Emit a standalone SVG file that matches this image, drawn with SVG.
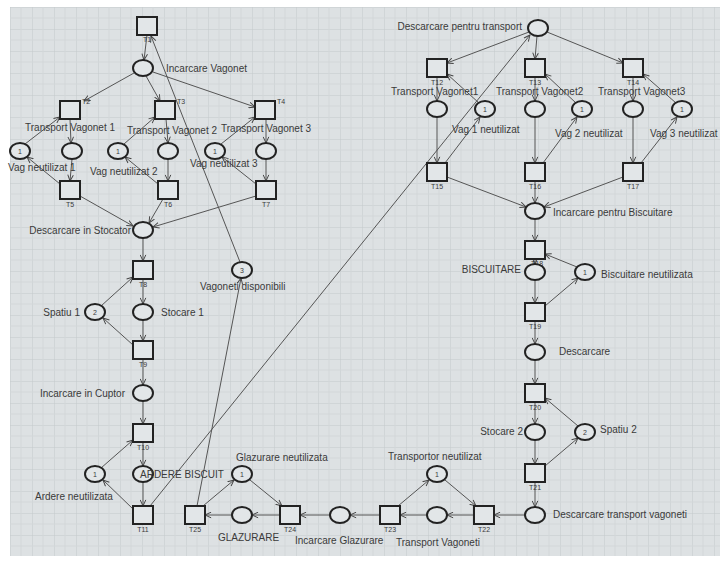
<svg xmlns="http://www.w3.org/2000/svg" width="720" height="563" viewBox="0 0 720 563">
<defs>
<pattern id="grid" x="10" y="7" width="22" height="22" patternUnits="userSpaceOnUse">
<rect width="22" height="22" fill="#dde1e3"/>
<path d="M0 0H22M0 0V22" stroke="#c4c9cc" stroke-width="1" fill="none"/>
<path d="M11 0V22M0 11H22" stroke="#d3d7d9" stroke-width="1" fill="none"/>
</pattern>
<marker id="ah" viewBox="0 0 8 8" refX="7.5" refY="4" markerWidth="7" markerHeight="7" orient="auto" markerUnits="userSpaceOnUse">
<path d="M0.5 0.8L7.5 4L0.5 7.2" fill="none" stroke="#444" stroke-width="1.1"/>
</marker>
<style>
.t rect{fill:#e2e6e8;stroke:#222;stroke-width:2}
.p ellipse{fill:#e2e6e8;stroke:#222;stroke-width:2}
text{font-family:"Liberation Sans",Arial,sans-serif;fill:#3a3a3a}
.lb{font-size:10px}
.tl{font-size:7px;text-anchor:middle}
.tk{font-size:7px;text-anchor:middle}
#edges line{stroke:#555;stroke-width:1;marker-end:url(#ah)}
</style>
</defs>
<rect width="720" height="563" fill="#ffffff"/>
<rect x="10" y="7" width="710" height="549" fill="url(#grid)"/>

<g id="edges">
<line x1="147" y1="35" x2="144" y2="60"/>
<line x1="134" y1="73" x2="84" y2="101"/>
<line x1="146" y1="76" x2="160" y2="101"/>
<line x1="153" y1="72" x2="255" y2="107"/>
<line x1="240" y1="262" x2="151" y2="36"/>
<line x1="70" y1="119" x2="71" y2="143"/>
<line x1="25" y1="144" x2="60" y2="117"/>
<line x1="72" y1="159" x2="70" y2="181"/>
<line x1="60" y1="184" x2="27" y2="157"/>
<line x1="166" y1="119" x2="168" y2="143"/>
<line x1="124" y1="144" x2="155" y2="117"/>
<line x1="168" y1="159" x2="168" y2="181"/>
<line x1="158" y1="184" x2="125" y2="157"/>
<line x1="266" y1="119" x2="266" y2="143"/>
<line x1="221" y1="144" x2="255" y2="117"/>
<line x1="266" y1="159" x2="266" y2="181"/>
<line x1="256" y1="184" x2="222" y2="157"/>
<line x1="80" y1="196" x2="133" y2="226"/>
<line x1="163" y1="199" x2="149" y2="223"/>
<line x1="256" y1="196" x2="153" y2="227"/>
<line x1="143" y1="238" x2="143" y2="261"/>
<line x1="143" y1="279" x2="143" y2="304"/>
<line x1="101" y1="306" x2="133" y2="277"/>
<line x1="133" y1="345" x2="103" y2="318"/>
<line x1="143" y1="320" x2="143" y2="341"/>
<line x1="143" y1="359" x2="143" y2="385"/>
<line x1="143" y1="401" x2="143" y2="424"/>
<line x1="143" y1="442" x2="143" y2="466"/>
<line x1="101" y1="468" x2="133" y2="440"/>
<line x1="133" y1="509" x2="103" y2="480"/>
<line x1="143" y1="482" x2="143" y2="506"/>
<line x1="150" y1="506" x2="530" y2="35"/>
<line x1="197" y1="506" x2="241" y2="278"/>
<line x1="203" y1="506" x2="234" y2="480"/>
<line x1="250" y1="480" x2="282" y2="506"/>
<line x1="232" y1="515" x2="205" y2="515"/>
<line x1="280" y1="515" x2="252" y2="515"/>
<line x1="330" y1="515" x2="300" y2="515"/>
<line x1="380" y1="515" x2="350" y2="515"/>
<line x1="427" y1="515" x2="400" y2="515"/>
<line x1="474" y1="515" x2="447" y2="515"/>
<line x1="525" y1="515" x2="494" y2="515"/>
<line x1="398" y1="506" x2="429" y2="480"/>
<line x1="445" y1="480" x2="476" y2="506"/>
<line x1="535" y1="482" x2="535" y2="507"/>
<line x1="535" y1="440" x2="535" y2="464"/>
<line x1="535" y1="402" x2="535" y2="424"/>
<line x1="545" y1="466" x2="578" y2="438"/>
<line x1="578" y1="426" x2="545" y2="398"/>
<line x1="535" y1="360" x2="535" y2="384"/>
<line x1="535" y1="321" x2="535" y2="344"/>
<line x1="535" y1="280" x2="535" y2="303"/>
<line x1="535" y1="259" x2="535" y2="264"/>
<line x1="577" y1="267" x2="545" y2="254"/>
<line x1="545" y1="306" x2="578" y2="278"/>
<line x1="535" y1="219" x2="535" y2="241"/>
<line x1="447" y1="177" x2="526" y2="207"/>
<line x1="535" y1="181" x2="535" y2="203"/>
<line x1="623" y1="177" x2="544" y2="207"/>
<line x1="437" y1="117" x2="437" y2="163"/>
<line x1="437" y1="77" x2="437" y2="101"/>
<line x1="479" y1="103" x2="447" y2="74"/>
<line x1="445" y1="163" x2="480" y2="117"/>
<line x1="535" y1="117" x2="535" y2="163"/>
<line x1="535" y1="77" x2="535" y2="101"/>
<line x1="576" y1="103" x2="545" y2="74"/>
<line x1="543" y1="163" x2="577" y2="117"/>
<line x1="633" y1="117" x2="633" y2="163"/>
<line x1="633" y1="77" x2="633" y2="101"/>
<line x1="676" y1="103" x2="643" y2="74"/>
<line x1="641" y1="163" x2="677" y2="117"/>
<line x1="529" y1="32" x2="447" y2="63"/>
<line x1="537" y1="36" x2="535" y2="59"/>
<line x1="547" y1="32" x2="623" y2="63"/>
</g>

<!-- transitions -->
<g id="T1" class="t"><rect x="137" y="17" width="20" height="18"/><text class="tl" x="147" y="42">T1</text></g>
<g id="T2" class="t"><rect x="60" y="101" width="20" height="18"/><text class="tl" x="86" y="104">T2</text></g>
<g id="T3" class="t"><rect x="155" y="101" width="20" height="18"/><text class="tl" x="181" y="104">T3</text></g>
<g id="T4" class="t"><rect x="255" y="101" width="20" height="18"/><text class="tl" x="281" y="104">T4</text></g>
<g id="T5" class="t"><rect x="60" y="181" width="20" height="18"/><text class="tl" x="70" y="207">T5</text></g>
<g id="T6" class="t"><rect x="158" y="181" width="20" height="18"/><text class="tl" x="168" y="207">T6</text></g>
<g id="T7" class="t"><rect x="256" y="181" width="20" height="18"/><text class="tl" x="266" y="207">T7</text></g>
<g id="T8" class="t"><rect x="133" y="261" width="20" height="18"/><text class="tl" x="143" y="287">T8</text></g>
<g id="T9" class="t"><rect x="133" y="341" width="20" height="18"/><text class="tl" x="143" y="367">T9</text></g>
<g id="T10" class="t"><rect x="133" y="424" width="20" height="18"/><text class="tl" x="143" y="450">T10</text></g>
<g id="T11" class="t"><rect x="133" y="506" width="20" height="18"/><text class="tl" x="143" y="532">T11</text></g>
<g id="T25" class="t"><rect x="185" y="506" width="20" height="18"/><text class="tl" x="195" y="532">T25</text></g>
<g id="T24" class="t"><rect x="280" y="506" width="20" height="18"/><text class="tl" x="290" y="532">T24</text></g>
<g id="T23" class="t"><rect x="380" y="506" width="20" height="18"/><text class="tl" x="390" y="532">T23</text></g>
<g id="T22" class="t"><rect x="474" y="506" width="20" height="18"/><text class="tl" x="484" y="532">T22</text></g>
<g id="T21" class="t"><rect x="525" y="464" width="20" height="18"/><text class="tl" x="535" y="490">T21</text></g>
<g id="T20" class="t"><rect x="525" y="384" width="20" height="18"/><text class="tl" x="535" y="410">T20</text></g>
<g id="T19" class="t"><rect x="525" y="303" width="20" height="18"/><text class="tl" x="535" y="329">T19</text></g>
<g id="T18" class="t"><rect x="525" y="241" width="20" height="18"/><text class="tl" x="537" y="266">T18</text></g>
<g id="T15" class="t"><rect x="427" y="163" width="20" height="18"/><text class="tl" x="437" y="189">T15</text></g>
<g id="T16" class="t"><rect x="525" y="163" width="20" height="18"/><text class="tl" x="535" y="189">T16</text></g>
<g id="T17" class="t"><rect x="623" y="163" width="20" height="18"/><text class="tl" x="633" y="189">T17</text></g>
<g id="T12" class="t"><rect x="427" y="59" width="20" height="18"/><text class="tl" x="437" y="85">T12</text></g>
<g id="T13" class="t"><rect x="525" y="59" width="20" height="18"/><text class="tl" x="535" y="85">T13</text></g>
<g id="T14" class="t"><rect x="623" y="59" width="20" height="18"/><text class="tl" x="633" y="85">T14</text></g>

<!-- places -->
<g id="p-incarcare-vagonet" class="p"><ellipse cx="143" cy="68" rx="10" ry="8"/><text class="lb" x="166" y="72">Incarcare Vagonet</text></g>
<g id="p-vag1" class="p"><ellipse cx="20" cy="151" rx="10" ry="8"/><text class="tk" x="20" y="154">1</text><text class="lb" x="8" y="171">Vag neutilizat 1</text></g>
<g id="p-tv1" class="p"><ellipse cx="72" cy="151" rx="10" ry="8"/><text class="lb" x="25" y="131">Transport Vagonet 1</text></g>
<g id="p-vag2" class="p"><ellipse cx="118" cy="151" rx="10" ry="8"/><text class="tk" x="118" y="154">1</text><text class="lb" x="90" y="175">Vag neutilizat 2</text></g>
<g id="p-tv2" class="p"><ellipse cx="168" cy="151" rx="10" ry="8"/><text class="lb" x="127" y="134">Transport Vagonet 2</text></g>
<g id="p-vag3" class="p"><ellipse cx="215" cy="151" rx="10" ry="8"/><text class="tk" x="215" y="154">1</text><text class="lb" x="190" y="167">Vag neutilizat 3</text></g>
<g id="p-tv3" class="p"><ellipse cx="266" cy="151" rx="10" ry="8"/><text class="lb" x="221" y="132">Transport Vagonet 3</text></g>
<g id="p-desc-stocator" class="p"><ellipse cx="143" cy="230" rx="10" ry="8"/><text class="lb" x="131" y="234" text-anchor="end">Descarcare in Stocator</text></g>
<g id="p-spatiu1" class="p"><ellipse cx="95" cy="312" rx="10" ry="8"/><text class="tk" x="95" y="315">2</text><text class="lb" x="80" y="316" text-anchor="end">Spatiu 1</text></g>
<g id="p-stocare1" class="p"><ellipse cx="143" cy="312" rx="10" ry="8"/><text class="lb" x="161" y="316">Stocare 1</text></g>
<g id="p-inc-cuptor" class="p"><ellipse cx="143" cy="393" rx="10" ry="8"/><text class="lb" x="125" y="397" text-anchor="end">Incarcare in Cuptor</text></g>
<g id="p-ardere-neut" class="p"><ellipse cx="95" cy="474" rx="10" ry="8"/><text class="tk" x="95" y="477">1</text><text class="lb" x="35" y="500">Ardere neutilizata</text></g>
<g id="p-ardere" class="p"><ellipse cx="143" cy="474" rx="10" ry="8"/><text class="lb" x="140" y="478">ARDERE BISCUIT</text></g>
<g id="p-vag-disp" class="p"><ellipse cx="242" cy="270" rx="10" ry="8"/><text class="tk" x="242" y="273">3</text><text class="lb" x="200" y="290">Vagoneti disponibili</text></g>
<g id="p-glaz-neut" class="p"><ellipse cx="242" cy="474" rx="10" ry="8"/><text class="tk" x="242" y="477">1</text><text class="lb" x="236" y="461">Glazurare neutilizata</text></g>
<g id="p-glazurare" class="p"><ellipse cx="242" cy="515" rx="10" ry="8"/><text class="lb" x="218" y="541">GLAZURARE</text></g>
<g id="p-inc-glaz" class="p"><ellipse cx="340" cy="515" rx="10" ry="8"/><text class="lb" x="295" y="544">Incarcare Glazurare</text></g>
<g id="p-transp-vag" class="p"><ellipse cx="437" cy="515" rx="10" ry="8"/><text class="lb" x="396" y="546">Transport Vagoneti</text></g>
<g id="p-transp-neut" class="p"><ellipse cx="437" cy="474" rx="10" ry="8"/><text class="tk" x="437" y="477">1</text><text class="lb" x="388" y="460">Transportor neutilizat</text></g>
<g id="p-desc-transp" class="p"><ellipse cx="535" cy="515" rx="10" ry="8"/><text class="lb" x="553" y="518">Descarcare transport vagoneti</text></g>
<g id="p-stocare2" class="p"><ellipse cx="535" cy="432" rx="10" ry="8"/><text class="lb" x="523" y="435" text-anchor="end">Stocare 2</text></g>
<g id="p-spatiu2" class="p"><ellipse cx="585" cy="432" rx="10" ry="8"/><text class="tk" x="585" y="435">2</text><text class="lb" x="600" y="433">Spatiu 2</text></g>
<g id="p-descarcare" class="p"><ellipse cx="535" cy="352" rx="10" ry="8"/><text class="lb" x="559" y="355">Descarcare</text></g>
<g id="p-biscuitare" class="p"><ellipse cx="535" cy="272" rx="10" ry="8"/><text class="lb" x="521" y="273" text-anchor="end">BISCUITARE</text></g>
<g id="p-bisc-neut" class="p"><ellipse cx="585" cy="272" rx="10" ry="8"/><text class="tk" x="585" y="275">1</text><text class="lb" x="601" y="278">Biscuitare neutilizata</text></g>
<g id="p-inc-bisc" class="p"><ellipse cx="535" cy="211" rx="10" ry="8"/><text class="lb" x="553" y="216">Incarcare pentru Biscuitare</text></g>
<g id="p-tvr1" class="p"><ellipse cx="437" cy="109" rx="10" ry="8"/><text class="lb" x="391" y="95">Transport Vagonet1</text></g>
<g id="p-vagr1" class="p"><ellipse cx="485" cy="109" rx="10" ry="8"/><text class="tk" x="485" y="112">1</text><text class="lb" x="452" y="133">Vag 1 neutilizat</text></g>
<g id="p-tvr2" class="p"><ellipse cx="535" cy="109" rx="10" ry="8"/><text class="lb" x="496" y="95">Transport Vagonet2</text></g>
<g id="p-vagr2" class="p"><ellipse cx="582" cy="109" rx="10" ry="8"/><text class="tk" x="582" y="112">1</text><text class="lb" x="555" y="137">Vag 2 neutilizat</text></g>
<g id="p-tvr3" class="p"><ellipse cx="633" cy="109" rx="10" ry="8"/><text class="lb" x="598" y="95">Transport Vagonet3</text></g>
<g id="p-vagr3" class="p"><ellipse cx="682" cy="109" rx="10" ry="8"/><text class="tk" x="682" y="112">1</text><text class="lb" x="650" y="137">Vag 3 neutilizat</text></g>
<g id="p-desc-pt" class="p"><ellipse cx="538" cy="28" rx="10" ry="8"/><text class="lb" x="522" y="30" text-anchor="end">Descarcare pentru transport</text></g>
</svg>
